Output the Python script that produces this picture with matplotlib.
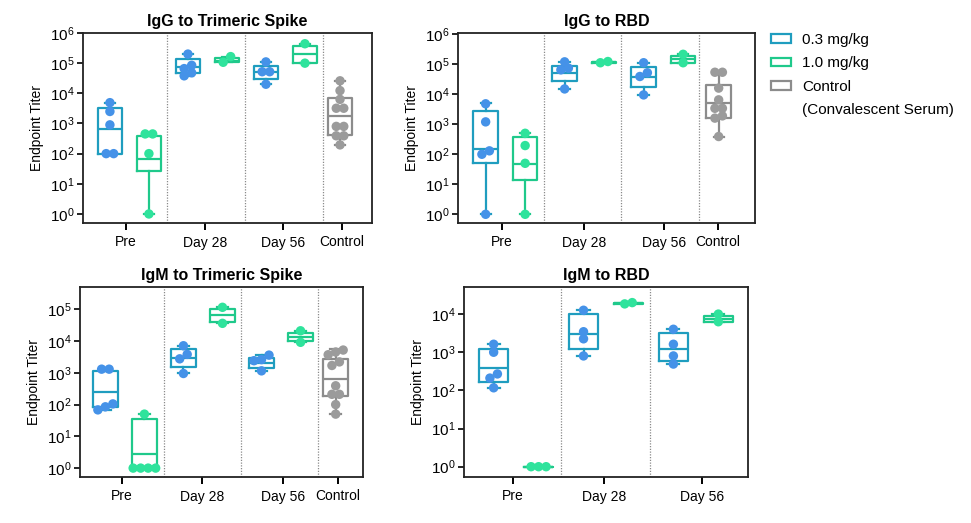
import numpy as np
import matplotlib
matplotlib.use('Agg')
import matplotlib.pyplot as plt
from matplotlib.patches import Patch
from matplotlib.ticker import LogLocator, NullLocator

plt.rcParams['font.family'] = ['Liberation Sans', 'DejaVu Sans']
plt.rcParams['mathtext.fontset'] = 'custom'
plt.rcParams['mathtext.rm'] = 'Liberation Sans'
plt.rcParams['mathtext.it'] = 'Liberation Sans:italic'
plt.rcParams['mathtext.bf'] = 'Liberation Sans:bold'
plt.rcParams['mathtext.default'] = 'regular'

# categories / legend
groups = ['Pre', 'Day 28', 'Day 56', 'Control']
dose_labels = ['0.3 mg/kg', '1.0 mg/kg', 'Control', '(Convalescent Serum)']

# order of boxes: Pre 0.3, Pre 1.0, D28 0.3, D28 1.0, D56 0.3, D56 1.0, Control
box_kind = ['low', 'high', 'low', 'high', 'low', 'high', 'ctrl']

# individual titers
igg_spike_points = [
    [100, 100, 900, 2500, 4900],
    [1, 100, 450, 450],
    [38000, 48000, 66000, 85000, 200000],
    [107000, 165000],
    [20000, 52000, 52000, 110000],
    [100000, 440000],
    [26000, 12300, 6300, 3200, 3200, 800, 800, 390, 390, 195],
]
# (whisker low, q1, median, q3, whisker high)
igg_spike_boxes = [
    (100, 100, 650, 3200, 4900),
    (1, 27, 65, 390, 450),
    (38000, 47000, 74000, 135000, 200000),
    (107000, 107000, 120000, 145000, 165000),
    (20000, 29500, 50000, 83000, 110000),
    (100000, 100000, 200000, 380000, 440000),
    (195, 410, 1800, 7200, 25000),
]

igg_rbd_points = [
    [1, 100, 130, 1200, 4800],
    [1, 50, 195, 500],
    [15000, 65000, 74000, 120000],
    [112000, 123000],
    [9500, 39000, 52000, 112000],
    [112000, 214000],
    [54000, 54000, 16000, 6500, 3400, 3400, 1900, 1600, 390],
]
igg_rbd_boxes = [
    (1, 50, 150, 2750, 5000),
    (1, 14, 47, 390, 520),
    (15000, 28000, 50000, 89000, 123000),
    (112000, 112000, 116000, 120000, 123000),
    (9500, 18000, 37000, 83000, 112000),
    (112000, 112000, 148000, 195000, 214000),
    (390, 1650, 5000, 20000, 56000),
]

igm_spike_points = [
    [68, 85, 105, 1300, 1300],
    [1, 1, 1, 1, 50],
    [950, 2750, 3800, 7100],
    [36000, 115000],
    [1150, 2400, 2600, 3600],
    [9100, 21000],
    [5200, 4500, 3700, 2200, 1700, 390, 210, 210, 100, 50],
]
igm_spike_boxes = [
    (68, 81, 240, 1150, 1300),
    (1, 1.1, 2.7, 35, 50),
    (950, 1500, 2900, 5500, 7100),
    (36000, 41000, 66000, 102000, 115000),
    (1100, 1400, 2100, 3000, 3600),
    (9100, 10000, 13800, 18200, 21000),
    (50, 186, 630, 2700, 5500),
]

igm_rbd_points = [
    [117, 210, 270, 1000, 1620],
    [1, 1, 1],
    [800, 2250, 3450, 12600],
    [18500, 20000],
    [490, 800, 1620, 4000],
    [6300, 10000],
]
igm_rbd_boxes = [
    (117, 162, 390, 1200, 1620),
    (1, 1, 1, 1, 1),
    (800, 1200, 3000, 9800, 12600),
    (18500, 18800, 19000, 19200, 20000),
    (490, 600, 1200, 3200, 4000),
    (6300, 6300, 7600, 9100, 10000),
]

BOX_COL = {'low': '#1f9dbf', 'high': '#1fc98b', 'ctrl': '#8c8c8c'}
DOT_COL = {'low': '#4592e8', 'high': '#2fe39c', 'ctrl': '#9b9b9b'}

W, H = 971, 523


def px_rect(left, top, right, bottom):
    return [left / W, 1 - bottom / H, (right - left) / W, (bottom - top) / H]


def swarm_offsets(ax, vals, spacing=7.5):
    # spread points with nearly equal titers sideways, centred on the box
    p0 = ax.transData.transform((0, 1))
    p1 = ax.transData.transform((1, 10))
    px_unit = p1[0] - p0[0]
    px_dec = p1[1] - p0[1]
    logs = np.log10(vals)
    order = np.argsort(logs)
    offs = np.zeros(len(vals))
    rows = []
    for i in order:
        if rows and (logs[i] - logs[rows[-1][0]]) * px_dec < 6:
            rows[-1].append(i)
        else:
            rows.append([i])
    for row in rows:
        k = len(row)
        for j, i in enumerate(row):
            offs[i] = (j - (k - 1) / 2) * spacing / px_unit
    return offs


def draw_panel(ax, title, points, boxes, ylim, xlim, positions, seps, ticks, labels, bw):
    ax.set_yscale('log')
    ax.set_ylim(*ylim)
    ax.set_xlim(*xlim)
    for s in seps:
        ax.axvline(s, color='#8a8a8a', lw=0.9, ls=(0, (1, 1.2)), zorder=1)
    for pos, b, kind in zip(positions, boxes, box_kind):
        c = BOX_COL[kind]
        st = [dict(whislo=b[0], q1=b[1], med=b[2], q3=b[3], whishi=b[4], fliers=[])]
        lp = dict(color=c, lw=1.6)
        ax.bxp(st, positions=[pos], widths=bw, capwidths=bw * 0.42, showfliers=False,
               boxprops=lp, whiskerprops=lp, capprops=lp, medianprops=lp,
               manage_ticks=False, zorder=2)
    for pos, vals, kind in zip(positions, points, box_kind):
        offs = swarm_offsets(ax, vals)
        ax.scatter(pos + offs, vals, s=46, color=DOT_COL[kind], edgecolors='none',
                   zorder=3, clip_on=False)
    ax.set_title(title, fontsize=11.5, fontweight='bold', pad=5)
    ax.set_ylabel('Endpoint Titer', fontsize=10)
    ax.yaxis.set_major_locator(LogLocator(base=10, numticks=12))
    ax.yaxis.set_minor_locator(NullLocator())
    ax.set_xticks(ticks)
    ax.set_xticklabels(labels, fontsize=10)
    ax.tick_params(axis='y', labelsize=11, length=4, width=1.2, pad=2)
    ax.tick_params(axis='x', length=5, width=1.4, pad=4)
    for sp in ax.spines.values():
        sp.set_linewidth(1.3)
        sp.set_color('#222222')


fig = plt.figure(figsize=(W / 100, H / 100), dpi=100)

pos7 = [0, 1, 2, 3, 4, 5, 5.9]
pos6 = [0, 1, 2, 3, 4, 5]

ax1 = fig.add_axes(px_rect(83, 33, 372, 223))
draw_panel(ax1, 'IgG to Trimeric Spike', igg_spike_points, igg_spike_boxes,
           (10 ** -0.3, 1e6), (-0.69, 6.72), pos7, [1.47, 3.46, 5.46],
           [0.4, 2.45, 4.45, 5.95], groups, 0.62)

ax2 = fig.add_axes(px_rect(458, 33, 755, 223))
draw_panel(ax2, 'IgG to RBD', igg_rbd_points, igg_rbd_boxes,
           (10 ** -0.29, 10 ** 6.04), (-0.7, 6.82), pos7, [1.48, 3.43, 5.4],
           [0.42, 2.5, 4.52, 5.88], groups, 0.62)

ax3 = fig.add_axes(px_rect(80, 287, 363, 477))
draw_panel(ax3, 'IgM to Trimeric Spike', igm_spike_points, igm_spike_boxes,
           (10 ** -0.28, 10 ** 5.7), (-0.65, 6.6), pos7, [1.5, 3.47, 5.44],
           [0.42, 2.47, 4.55, 5.96], groups, 0.64)

ax4 = fig.add_axes(px_rect(464, 287, 748, 477))
draw_panel(ax4, 'IgM to RBD', igm_rbd_points, igm_rbd_boxes,
           (10 ** -0.27, 10 ** 4.71), (-0.66, 5.66), pos6, [1.5, 3.48],
           [0.43, 2.46, 4.63], groups[:3], 0.64)

handles = [Patch(facecolor='white', edgecolor=BOX_COL['low'], lw=1.6),
           Patch(facecolor='white', edgecolor=BOX_COL['high'], lw=1.6),
           Patch(facecolor='white', edgecolor=BOX_COL['ctrl'], lw=1.6),
           Patch(facecolor='none', edgecolor='none')]
fig.legend(handles, dose_labels, loc='upper left', bbox_to_anchor=(771 / W, 1 - 33 / H),
           frameon=False, fontsize=11, handlelength=1.3, handleheight=0.45,
           handletextpad=0.75, labelspacing=0.62, borderpad=0, borderaxespad=0)

fig.savefig('out.png', dpi=100)
